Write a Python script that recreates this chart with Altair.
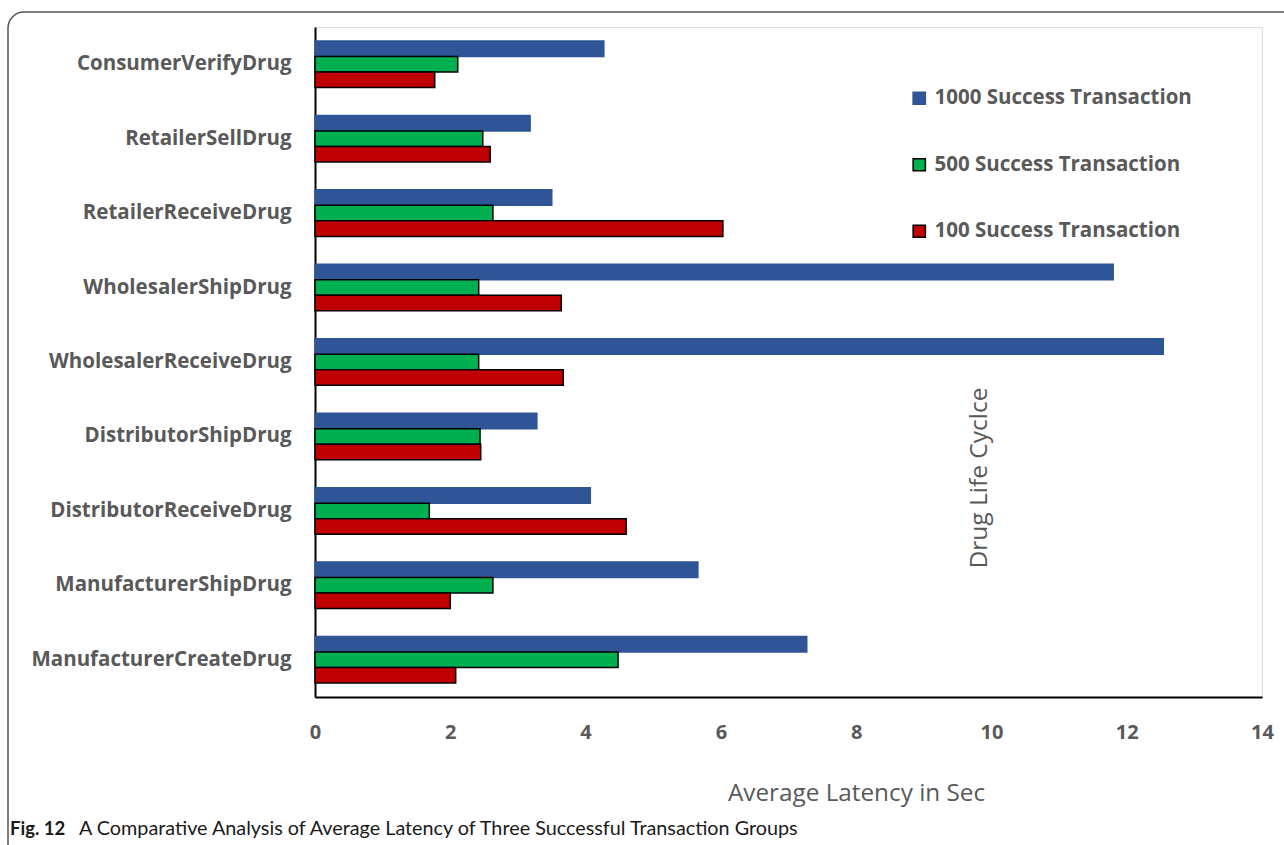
import altair as alt
import pandas as pd

categories = [
    "ConsumerVerifyDrug", "RetailerSellDrug", "RetailerReceiveDrug",
    "WholesalerShipDrug", "WholesalerReceiveDrug", "DistributorShipDrug",
    "DistributorReceiveDrug", "ManufacturerShipDrug", "ManufacturerCreateDrug",
]
series = ["1000 Success Transaction", "500 Success Transaction", "100 Success Transaction"]
vals_1000 = [4.27, 3.18, 3.50, 11.80, 12.54, 3.28, 4.07, 5.66, 7.27]
vals_500 = [2.11, 2.48, 2.63, 2.42, 2.42, 2.44, 1.69, 2.63, 4.48]
vals_100 = [1.77, 2.59, 6.03, 3.64, 3.67, 2.45, 4.60, 2.00, 2.08]
colors = ["#2F5597", "#00B050", "#C00000"]
strokes = ["#2F5597", "#000000", "#000000"]
x_ticks = [0, 2, 4, 6, 8, 10, 12, 14]

rows = []
for s, vals in zip(series, [vals_1000, vals_500, vals_100]):
    for c, v in zip(categories, vals):
        rows.append({"stage": c, "series": s, "latency": v})
df = pd.DataFrame(rows)

W, H = 947, 670
GRAY = "#595959"
FONT = "'Open Sans', sans-serif"

bars = alt.Chart(df).mark_bar(strokeWidth=1.5).encode(
    y=alt.Y("stage:N", sort=categories,
            scale=alt.Scale(paddingInner=0.375, paddingOuter=0.1875),
            axis=alt.Axis(title=None, ticks=False, domainColor="black", domainWidth=2,
                          labelFontSize=20.5, labelFontWeight="bold", labelColor=GRAY,
                          labelFont=FONT, labelPadding=24, labelLimit=0)),
    yOffset=alt.YOffset("series:N", sort=series, scale=alt.Scale(paddingInner=0, paddingOuter=0)),
    x=alt.X("latency:Q", scale=alt.Scale(domain=[0, 14], nice=False),
            axis=alt.Axis(values=x_ticks, grid=False, ticks=False, domainColor="black",
                          domainWidth=2, labelFontSize=20, labelFontWeight="bold",
                          labelColor=GRAY, labelFont=FONT, labelPadding=25,
                          labelFlush=False,
                          title="Average Latency in Sec", titleFontSize=24.3,
                          titleFontWeight="normal", titleColor=GRAY, titleFont=FONT,
                          titleX=541, titleY=96, titleAlign="center",
                          titleBaseline="middle")),
    color=alt.Color("series:N", scale=alt.Scale(domain=series, range=colors),
                    legend=alt.Legend(title=None, orient="none", legendX=594, legendY=61,
                                      symbolType="square", symbolSize=150,
                                      symbolStrokeWidth=1.5, labelLimit=0,
                                      labelFontSize=20.5, labelFontWeight="bold",
                                      labelColor=GRAY, labelFont=FONT, labelOffset=5,
                                      rowPadding=45.5)),
    stroke=alt.Stroke("series:N", scale=alt.Scale(domain=series, range=strokes)),
)

ytitle = alt.Chart(pd.DataFrame({"t": ["Drug Life Cyclce"]})).mark_text(
    angle=270, fontSize=24.5, color=GRAY, font=FONT, align="center", baseline="middle"
).encode(x=alt.value(665), y=alt.value(451), text="t:N")

frame = alt.Chart(pd.DataFrame({"t": [1]})).mark_rect(
    fill=None, fillOpacity=0, stroke="#555555", strokeWidth=1.5, cornerRadius=16
).encode(x=alt.value(-307), x2=alt.value(1050), y=alt.value(-15), y2=alt.value(900))

cap_font = "Lato, sans-serif"
cap1 = alt.Chart(pd.DataFrame({"t": ["Fig. 12"]})).mark_text(
    fontSize=18.5, fontWeight="bold", color="#1a1a1a", font=cap_font, align="left",
    baseline="middle"
).encode(x=alt.value(-305), y=alt.value(802), text="t:N")
cap2 = alt.Chart(pd.DataFrame({"t": ["A Comparative Analysis of Average Latency of Three Successful Transaction Groups"]})).mark_text(
    fontSize=19.8, color="#1a1a1a", font=cap_font, align="left", baseline="middle"
).encode(x=alt.value(-236), y=alt.value(802), text="t:N")

chart = alt.layer(frame, bars, ytitle, cap1, cap2).resolve_scale(
    color="independent", stroke="independent"
).properties(
    width=W, height=H,
    autosize=alt.AutoSizeParams(type="none"),
    padding={"left": 315, "top": 27, "right": 22, "bottom": 148},
).configure_view(stroke=None).configure(background="white")

chart.save("out.html", embed_options={"renderer": "svg", "actions": False})
